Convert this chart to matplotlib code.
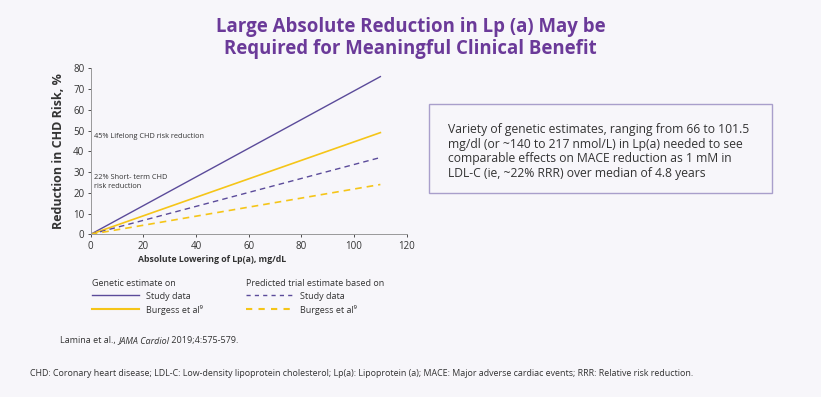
import numpy as np
import matplotlib.pyplot as plt
from matplotlib.lines import Line2D

plt.rcParams['font.family'] = ['Open Sans', 'DejaVu Sans']

# data
lowering = [0, 110]               # mg/dL
study_genetic = [0, 76]           # %
burgess_genetic = [0, 49]
study_trial = [0, 37]
burgess_trial = [0, 24]
xticks = [0, 20, 40, 60, 80, 100, 120]
yticks = [0, 10, 20, 30, 40, 50, 60, 70, 80]

bg = '#f7f6fa'
purple = '#5b4b9a'
yellow = '#f5c518'
title_col = '#6b3a99'
txt = '#333333'

fig = plt.figure(figsize=(8.21, 3.97), dpi=100)
fig.patch.set_facecolor(bg)
W, H = 821, 397


def fx(px):
    return px / W


def fy(py):
    return 1 - py / H


ax = fig.add_axes([fx(90.7), fy(234.3), fx(406.7) - fx(90.7), fy(68.3) - fy(234.3)])
ax.set_facecolor(bg)

ax.plot(lowering, study_genetic, color=purple, lw=1.0)
ax.plot(lowering, burgess_genetic, color=yellow, lw=1.2)
ax.plot(lowering, study_trial, color=purple, lw=1.0, dashes=(4, 3))
ax.plot(lowering, burgess_trial, color=yellow, lw=1.2, dashes=(4, 3))

ax.set_xlim(0, 120)
ax.set_ylim(0, 80)
ax.set_xticks(xticks)
ax.set_yticks(yticks)
ax.tick_params(labelsize=7, colors=txt, length=2.5, width=0.6, pad=2)
for s in ['top', 'right']:
    ax.spines[s].set_visible(False)
for s in ['left', 'bottom']:
    ax.spines[s].set_color('#999999')
    ax.spines[s].set_linewidth(0.7)
ax.set_xlabel('Absolute Lowering of Lp(a), mg/dL', fontsize=6.3, fontweight='bold',
              color=txt, labelpad=3)
ax.xaxis.set_label_coords(0.384, -0.125)
ax.set_ylabel('Reduction in CHD Risk, %', fontsize=9, fontweight='bold', color=txt,
              labelpad=6)

# annotations inside plot
fig.text(fx(94), fy(136), '45% Lifelong CHD risk reduction', fontsize=5.3, color=txt,
         va='center', ha='left')
fig.text(fx(94), fy(182), '22% Short- term CHD\nrisk reduction', fontsize=5.3, color=txt,
         va='center', ha='left', linespacing=1.4)

# title
fig.text(0.5, fy(38), 'Large Absolute Reduction in Lp (a) May be\nRequired for Meaningful Clinical Benefit',
         ha='center', va='center', fontsize=13.4, fontweight='bold', color=title_col,
         linespacing=1.1)

# info box
box = plt.Rectangle((fx(429.3), fy(193.3)), fx(771.7) - fx(429.3), fy(104.3) - fy(193.3),
                    transform=fig.transFigure, facecolor=bg, edgecolor='#a99fcb', lw=1.0)
fig.patches.append(box)
fig.text(fx(448), fy(151.5),
         'Variety of genetic estimates, ranging from 66 to 101.5\n'
         'mg/dl (or ~140 to 217 nmol/L) in Lp(a) needed to see\n'
         'comparable effects on MACE reduction as 1 mM in\n'
         'LDL-C (ie, ~22% RRR) over median of 4.8 years',
         fontsize=8.75, color=txt, ha='left', va='center', linespacing=1.18)

# legends
h1 = [Line2D([], [], color=purple, lw=1.0), Line2D([], [], color=yellow, lw=1.5)]
h2 = [Line2D([], [], color=purple, lw=1.0, dashes=(3, 3)),
      Line2D([], [], color=yellow, lw=1.5, dashes=(3, 3))]
labels = ['Study data', 'Burgess et al\u2079']
leg_kw = dict(frameon=False, fontsize=6.5, handlelength=5.2, handletextpad=0.8,
              borderpad=0, borderaxespad=0, labelspacing=0.45, alignment='left',
              loc='upper left', bbox_transform=fig.transFigure, title_fontsize=6.5)
leg1 = fig.legend(h1, labels, title='Genetic estimate on',
                  bbox_to_anchor=(fx(92), fy(278.5)), **leg_kw)
leg2 = fig.legend(h2, labels, title='Predicted trial estimate based on',
                  bbox_to_anchor=(fx(246), fy(278.5)), **leg_kw)
for lg in (leg1, leg2):
    lg.get_title().set_color(txt)
    for t in lg.get_texts():
        t.set_color(txt)

# citation with italic journal name
fig.canvas.draw()
r = fig.canvas.get_renderer()
x0 = fx(60)
parts = [('Lamina et al., ', 'normal'), ('JAMA Cardiol', 'italic'), (' 2019;4:575-579.', 'normal')]
for s, st in parts:
    t = fig.text(x0, fy(341), s, fontsize=6.5, color=txt, va='center', style=st)
    x0 = t.get_window_extent(renderer=r).x1 / W

fig.text(fx(30), fy(374),
         'CHD: Coronary heart disease; LDL-C: Low-density lipoprotein cholesterol; Lp(a): '
         'Lipoprotein (a); MACE: Major adverse cardiac events; RRR: Relative risk reduction.',
         fontsize=6.4, color=txt, va='center')

fig.savefig('out.png', dpi=100, facecolor=bg)
